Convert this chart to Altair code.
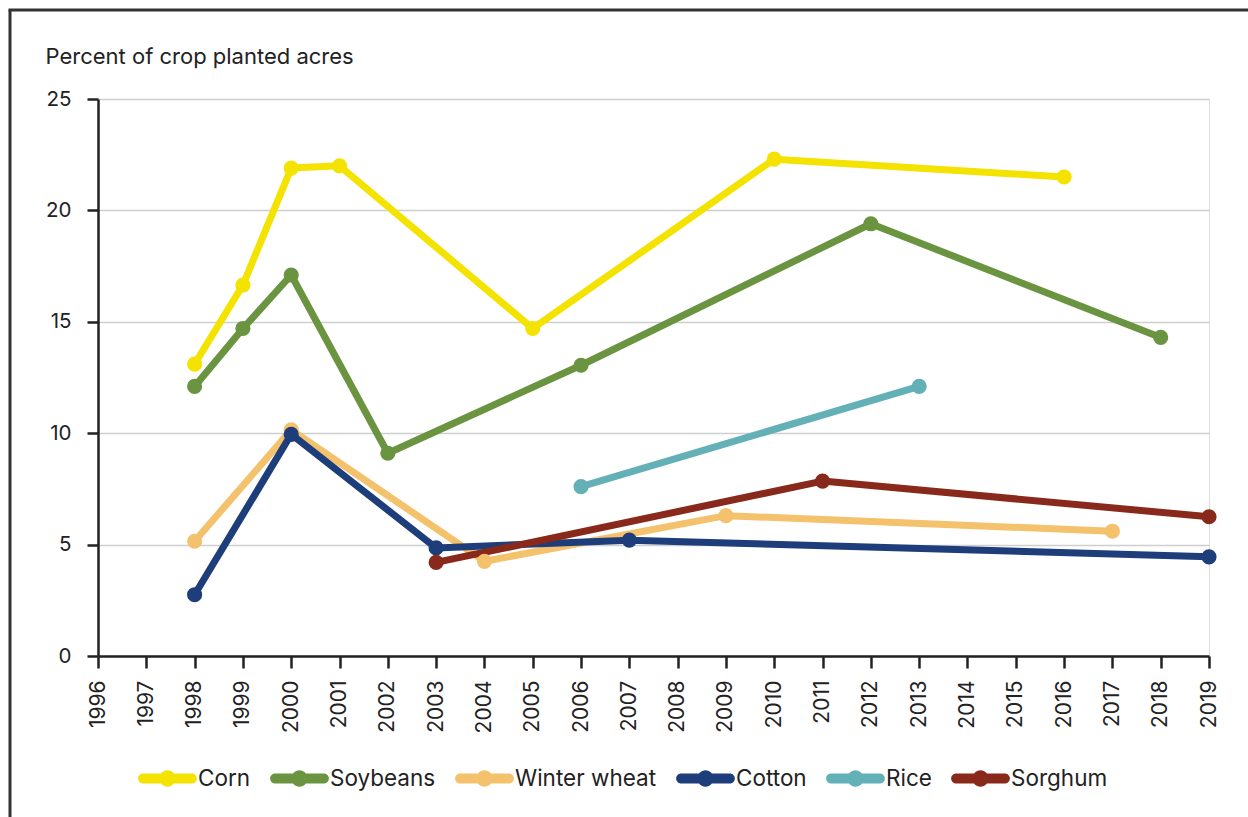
import altair as alt
import pandas as pd

years_corn = [1998, 1999, 2000, 2001, 2005, 2010, 2016]
vals_corn = [13.1, 16.65, 21.9, 22.0, 14.7, 22.3, 21.5]
years_soy = [1998, 1999, 2000, 2002, 2006, 2012, 2018]
vals_soy = [12.1, 14.7, 17.1, 9.1, 13.05, 19.4, 14.3]
years_wheat = [1998, 2000, 2004, 2009, 2017]
vals_wheat = [5.15, 10.15, 4.25, 6.3, 5.6]
years_cotton = [1998, 2000, 2003, 2007, 2019]
vals_cotton = [2.75, 9.95, 4.85, 5.2, 4.45]
years_rice = [2006, 2013]
vals_rice = [7.6, 12.1]
years_sorghum = [2003, 2011, 2019]
vals_sorghum = [4.2, 7.85, 6.25]

crops = ["Corn", "Soybeans", "Winter wheat", "Cotton", "Rice", "Sorghum"]
colors = ["#F4E200", "#6A9440", "#F4C16C", "#1E3D7B", "#63B0B7", "#88291B"]
tick_years = list(range(1996, 2020))

rows = []
for name, ys, vs in [
    ("Corn", years_corn, vals_corn),
    ("Soybeans", years_soy, vals_soy),
    ("Winter wheat", years_wheat, vals_wheat),
    ("Cotton", years_cotton, vals_cotton),
    ("Rice", years_rice, vals_rice),
    ("Sorghum", years_sorghum, vals_sorghum),
]:
    for y, v in zip(ys, vs):
        rows.append({"crop": name, "year": y, "value": v})
df = pd.DataFrame(rows)

FONT = "Inter"

# capsule (thick line with round ends) plus a dot, normalised to [-1, 1]
legend_symbol = ("M -0.83 -0.17 L 0.83 -0.17 A 0.17 0.17 0 0 1 0.83 0.17 "
                 "L -0.83 0.17 A 0.17 0.17 0 0 1 -0.83 -0.17 Z "
                 "M 0.28 0 A 0.28 0.28 0 1 1 -0.28 0 A 0.28 0.28 0 1 1 0.28 0 Z")

lines = alt.Chart(df).mark_line(
    strokeWidth=7, strokeJoin="round", strokeCap="round",
    point=alt.OverlayMarkDef(filled=True, size=230, opacity=1),
).encode(
    x=alt.X("year:Q",
            scale=alt.Scale(domain=[1996, 2019], nice=False, zero=False),
            axis=alt.Axis(values=tick_years, format="d", labelAngle=270,
                          labelAlign="right", labelBaseline="middle",
                          title=None, grid=False, tickSize=12, tickWidth=2.5,
                          tickColor="#222222", domainColor="#222222",
                          domainWidth=2.5, labelPadding=12, labelFontSize=21,
                          labelColor="#222222", labelFont=FONT)),
    y=alt.Y("value:Q",
            scale=alt.Scale(domain=[0, 25], nice=False),
            axis=alt.Axis(values=[0, 5, 10, 15, 20, 25], title="Percent of crop planted acres",
                          titleAngle=0, titleAlign="left", titleBaseline="alphabetic",
                          titleX=-53, titleY=-36, titleFontSize=22,
                          titleFontWeight="normal", titleColor="#222222",
                          titleFont=FONT,
                          grid=True, gridColor="#CFCFCF", gridWidth=1.5,
                          tickSize=11, tickWidth=2.5, tickColor="#222222",
                          domainColor="#222222", domainWidth=2.5,
                          labelPadding=16, labelFontSize=20.5, labelColor="#222222",
                          labelFont=FONT)),
    color=alt.Color("crop:N", sort=crops,
                    scale=alt.Scale(domain=crops, range=colors),
                    legend=alt.Legend(orient="none", direction="horizontal",
                                      legendX=40, legendY=650,
                                      title=None, columns=6,
                                      symbolType=legend_symbol, symbolSize=3450,
                                      symbolStrokeWidth=0, symbolOpacity=1,
                                      labelFontSize=22.5, labelFont=FONT,
                                      labelColor="#222222", labelOffset=1,
                                      columnPadding=19)),
    order="year:Q",
)

frame_df = pd.DataFrame({"k": [0]})
left_border = alt.Chart(frame_df).mark_rule(color="#333333", strokeWidth=3).encode(
    x=alt.value(-88), y=alt.value(-89), y2=alt.value(740))
top_border = alt.Chart(frame_df).mark_rule(color="#333333", strokeWidth=3).encode(
    x=alt.value(-89.5), x2=alt.value(1200), y=alt.value(-89))

chart = alt.layer(lines, left_border, top_border).properties(
    width=1111, height=557,
    padding={"left": 98, "top": 99, "right": 39, "bottom": 161},
    autosize=alt.AutoSizeParams(type="none"),
).configure_view(stroke=None).configure(background="white")

chart.save("out.html", embed_options={"renderer": "svg", "actions": False})
